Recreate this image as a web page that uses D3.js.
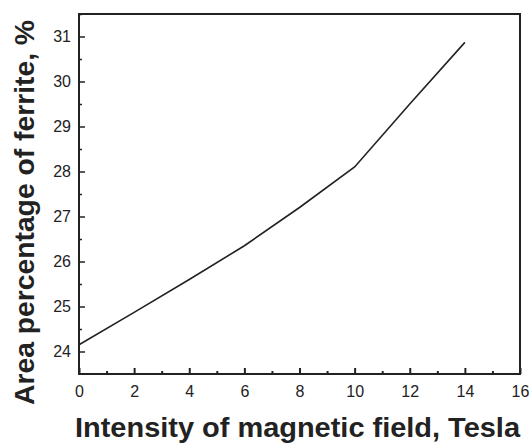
<!DOCTYPE html>
<html><head><meta charset="utf-8">
<script src="https://cdn.jsdelivr.net/npm/d3@7"></script>
<style>body{margin:0;background:#fff}svg{display:block}</style>
</head><body>
<script>
const fieldT = [0, 2, 4, 6, 8, 10, 12, 14];
const ferritePct = [24.15, 24.87, 25.6, 26.35, 27.2, 28.1, 29.5, 30.87];
const xTicks = [0, 2, 4, 6, 8, 10, 12, 14, 16];
const yTicks = [24, 25, 26, 27, 28, 29, 30, 31];
const xMinor = [1, 3, 5, 7, 9, 11, 13, 15];
const yMinor = [24.5, 25.5, 26.5, 27.5, 28.5, 29.5, 30.5, 31.5];

const W = 531, H = 447;
const m = {l: 79, r: 11, t: 14, b: 73};
const svg = d3.select("body").append("svg").attr("width", W).attr("height", H);
const x = d3.scaleLinear().domain([0, 16]).range([m.l, W - m.r]);
const y = d3.scaleLinear().domain([23.5, 31.5]).range([H - m.b, m.t]);
const ink = "#222";
const font = "Liberation Sans, Arial, Helvetica, sans-serif";

// frame
svg.append("rect").attr("x", x(0)).attr("y", y(31.5))
  .attr("width", x(16) - x(0)).attr("height", y(23.5) - y(31.5))
  .attr("fill", "none").attr("stroke", ink).attr("stroke-width", 2);

// bottom axis
const xa = svg.append("g").attr("transform", `translate(0,${y(23.5)})`)
  .call(d3.axisBottom(x).tickValues(xTicks).tickSize(-6).tickPadding(12).tickFormat(d3.format("d")));
xa.select(".domain").remove();
xa.selectAll("line").attr("stroke", ink).attr("stroke-width", 2);
xa.selectAll("text").attr("font-family", font).attr("font-size", 16).attr("fill", ink);
const xm = svg.append("g").attr("transform", `translate(0,${y(23.5)})`)
  .call(d3.axisBottom(x).tickValues(xMinor).tickSize(-3).tickFormat(""));
xm.select(".domain").remove();
xm.selectAll("line").attr("stroke", ink).attr("stroke-width", 2);

// left axis
const ya = svg.append("g").attr("transform", `translate(${x(0)},0)`)
  .call(d3.axisLeft(y).tickValues(yTicks).tickSize(-6).tickPadding(8).tickFormat(d3.format("d")));
ya.select(".domain").remove();
ya.selectAll("line").attr("stroke", ink).attr("stroke-width", 1.5);
ya.selectAll("text").attr("font-family", font).attr("font-size", 16).attr("fill", ink);
const ym = svg.append("g").attr("transform", `translate(${x(0)},0)`)
  .call(d3.axisLeft(y).tickValues(yMinor).tickSize(-3).tickFormat(""));
ym.select(".domain").remove();
ym.selectAll("line").attr("stroke", ink).attr("stroke-width", 1.5);

// line
const pts = fieldT.map((t, i) => [t, ferritePct[i]]);
svg.append("path").datum(pts)
  .attr("fill", "none").attr("stroke", ink).attr("stroke-width", 1.6)
  .attr("d", d3.line().x(d => x(d[0])).y(d => y(d[1])));

// axis titles
svg.append("text").attr("x", 297.5).attr("y", 437).attr("text-anchor", "middle")
  .attr("font-family", font).attr("font-weight", "bold")
  .attr("font-size", 27).attr("fill", ink)
  .attr("textLength", 445).attr("lengthAdjust", "spacingAndGlyphs")
  .text("Intensity of magnetic field, Tesla");
svg.append("text").attr("transform", "translate(34,212.5) rotate(-90)").attr("text-anchor", "middle")
  .attr("font-family", font).attr("font-weight", "bold")
  .attr("font-size", 27).attr("fill", ink)
  .attr("textLength", 385).attr("lengthAdjust", "spacingAndGlyphs")
  .text("Area percentage of ferrite, %");
</script>
</body></html>
